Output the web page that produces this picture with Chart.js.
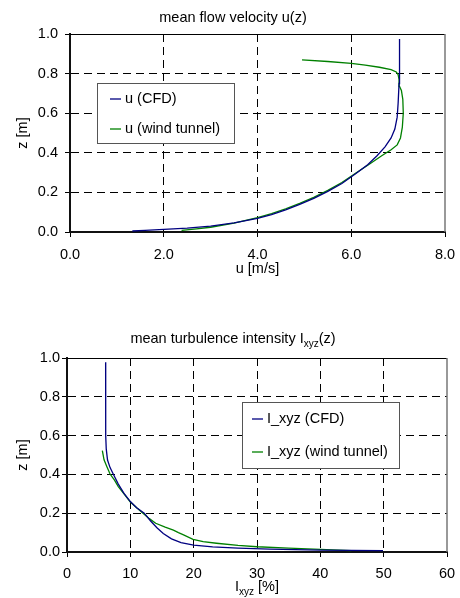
<!DOCTYPE html>
<html>
<head>
<meta charset="utf-8">
<script src="https://cdn.jsdelivr.net/npm/chart.js@4"></script>
<style>
  body { margin: 0; background: #fff; }
  canvas { display: block; }
</style>
</head>
<body>
<canvas id="velocity-chart" width="460" height="299"></canvas>
<canvas id="turbulence-chart" width="460" height="299"></canvas>
<script>
// mean flow velocity u(z)
const cfdVelU = [1.33, 1.6, 2.0, 2.5, 3.0, 3.5, 4.0, 4.3, 4.6, 4.9, 5.2, 5.5, 5.8, 6.1, 6.35, 6.55, 6.72, 6.85, 6.93, 6.98, 7.0, 7.02, 7.03, 7.03];
const cfdVelZ = [0.005, 0.008, 0.013, 0.02, 0.03, 0.046, 0.069, 0.088, 0.112, 0.14, 0.17, 0.205, 0.245, 0.295, 0.34, 0.385, 0.43, 0.475, 0.52, 0.58, 0.65, 0.75, 0.86, 0.975];
const tunnelVelU = [2.38, 2.7, 3.0, 3.5, 4.0, 4.3, 4.6, 4.9, 5.2, 5.5, 5.8, 6.1, 6.4, 6.65, 6.85, 6.98, 7.05, 7.09, 7.11, 7.1, 7.07, 7.03, 7.02, 7.0, 6.96, 6.85, 6.6, 6.3, 6.0, 5.5, 4.95];
const tunnelVelZ = [0.008, 0.016, 0.024, 0.045, 0.073, 0.093, 0.117, 0.145, 0.175, 0.21, 0.25, 0.298, 0.345, 0.385, 0.415, 0.44, 0.475, 0.53, 0.6, 0.67, 0.715, 0.735, 0.77, 0.795, 0.808, 0.82, 0.832, 0.843, 0.852, 0.861, 0.869];

// mean turbulence intensity I_xyz(z)
const cfdTurbI = [6.1, 6.1, 6.12, 6.2, 6.4, 6.8, 7.3, 8.1, 9.0, 10.0, 11.0, 12.2, 13.2, 14.2, 15.2, 16.5, 18.0, 20.0, 23.0, 27.0, 32.0, 40.0, 49.9];
const cfdTurbZ = [0.978, 0.8, 0.6, 0.53, 0.474, 0.435, 0.402, 0.35, 0.302, 0.26, 0.228, 0.2, 0.16, 0.125, 0.095, 0.068, 0.048, 0.035, 0.026, 0.02, 0.015, 0.01, 0.007];
const tunnelTurbI = [5.58, 5.85, 6.3, 6.8, 7.5, 8.1, 9.0, 10.0, 11.0, 12.0, 13.0, 14.0, 15.5, 16.8, 17.6, 18.4, 19.9, 21.5, 23.6, 27.0, 30.0, 35.0, 40.0, 44.9];
const tunnelTurbZ = [0.522, 0.475, 0.44, 0.402, 0.37, 0.337, 0.3, 0.258, 0.228, 0.2, 0.172, 0.148, 0.128, 0.113, 0.1, 0.088, 0.065, 0.053, 0.045, 0.034, 0.027, 0.02, 0.014, 0.007];

const velLabels = ['u (CFD)', 'u (wind tunnel)'];
const turbLabels = ['I_xyz (CFD)', 'I_xyz (wind tunnel)'];

const FONT = "'Liberation Sans', Arial, sans-serif";
const cfdColor = '#000080';
const tunnelColor = '#008000';

Chart.defaults.font.family = FONT;
Chart.defaults.font.size = 14.5;
Chart.defaults.color = '#000';

const pts = (xs, ys) => xs.map((x, i) => ({ x: x, y: ys[i] }));

// text pieces: [text, isSubscript]
function drawRich(ctx, segs, cx, cy) {
    const normal = '14.5px ' + FONT, small = '10px ' + FONT;
    let total = 0;
    segs.forEach(s => { ctx.font = s[1] ? small : normal; total += ctx.measureText(s[0]).width; });
    let x = cx - total / 2;
    ctx.textAlign = 'left';
    ctx.textBaseline = 'middle';
    ctx.fillStyle = '#000';
    segs.forEach(s => {
        ctx.font = s[1] ? small : normal;
        ctx.fillText(s[0], x, s[1] ? cy + 5 : cy);
        x += ctx.measureText(s[0]).width;
    });
}

const excelLook = {
    id: 'excelLook',
    beforeDatasetsDraw(chart, args, opts) {
        const { ctx, chartArea: a } = chart;
        ctx.save();
        ctx.strokeStyle = '#000';
        ctx.lineWidth = 1;
        ctx.beginPath(); ctx.moveTo(a.left, a.top + 0.5); ctx.lineTo(a.right, a.top + 0.5); ctx.stroke();
        ctx.strokeStyle = '#777';
        ctx.lineWidth = 1.5;
        ctx.beginPath(); ctx.moveTo(a.right, a.top); ctx.lineTo(a.right, a.bottom); ctx.stroke();
        ctx.restore();
    },
    afterDraw(chart, args, opts) {
        const { ctx, chartArea: a } = chart;
        ctx.save();
        drawRich(ctx, opts.title, opts.titleX, opts.titleY);
        drawRich(ctx, opts.xTitle, (a.left + a.right) / 2, opts.xTitleY);

        const L = opts.legend;
        ctx.fillStyle = '#fff';
        ctx.fillRect(L.x, L.y, L.w, L.h);
        ctx.strokeStyle = '#555';
        ctx.lineWidth = 1;
        ctx.strokeRect(L.x + 0.5, L.y + 0.5, L.w, L.h);
        chart.data.datasets.forEach((ds, i) => {
            const y = L.rows[i];
            ctx.strokeStyle = ds.borderColor;
            ctx.lineWidth = 1.3;
            ctx.beginPath(); ctx.moveTo(L.lineX1, y); ctx.lineTo(L.lineX2, y); ctx.stroke();
            ctx.fillStyle = '#000';
            ctx.font = '14.5px ' + FONT;
            ctx.textAlign = 'left';
            ctx.textBaseline = 'middle';
            ctx.fillText(ds.label, L.textX, y);
        });
        ctx.restore();
    }
};

function makeChart(canvasId, series, labels, xCfg, layoutCfg, look) {
    return new Chart(document.getElementById(canvasId), {
        type: 'scatter',
        data: {
            datasets: [
                { label: labels[0], data: series[0], borderColor: cfdColor, backgroundColor: cfdColor, showLine: true, pointRadius: 0, borderWidth: 1.3, tension: 0 },
                { label: labels[1], data: series[1], borderColor: tunnelColor, backgroundColor: tunnelColor, showLine: true, pointRadius: 0, borderWidth: 1.3, tension: 0 }
            ]
        },
        options: {
            responsive: false,
            animation: false,
            events: [],
            layout: { padding: { top: layoutCfg.top, right: layoutCfg.right, left: 0, bottom: 0 } },
            plugins: { legend: { display: false }, tooltip: { enabled: false }, title: { display: false }, excelLook: look },
            scales: {
                x: {
                    type: 'linear', min: xCfg.min, max: xCfg.max,
                    afterFit: s => { s.height = layoutCfg.xHeight; },
                    // small padding keeps the plot's right edge fixed; a taller line height pushes labels down
                    ticks: { stepSize: xCfg.step, padding: 4, font: { lineHeight: layoutCfg.xLineHeight }, callback: xCfg.fmt },
                    grid: { color: c => (c.tick && (c.tick.value === xCfg.min || c.tick.value === xCfg.max)) ? 'rgba(0,0,0,0)' : '#000', lineWidth: 1, tickLength: 5, tickColor: '#000', tickWidth: 1 },
                    border: { color: '#111', width: 2, dash: [8, 5] }
                },
                y: {
                    type: 'linear', min: 0, max: 1,
                    afterFit: s => { s.width = layoutCfg.yWidth; },
                    ticks: { stepSize: 0.2, padding: layoutCfg.yPad, callback: v => v.toFixed(1) },
                    title: { display: true, text: 'z [m]', padding: { top: layoutCfg.yTitlePad, bottom: 0 } },
                    grid: { color: c => (c.tick && (c.tick.value === 0 || c.tick.value === 1)) ? 'rgba(0,0,0,0)' : '#000', lineWidth: 1, tickLength: 5, tickColor: '#000', tickWidth: 1 },
                    border: { color: '#111', width: 2, dash: [8, 5] }
                }
            }
        },
        plugins: [excelLook]
    });
}

makeChart('velocity-chart',
    [pts(cfdVelU, cfdVelZ), pts(tunnelVelU, tunnelVelZ)], velLabels,
    { min: 0, max: 8, step: 2, fmt: v => v.toFixed(1) },
    { top: 34, right: 15, xHeight: 67, yWidth: 70, xLineHeight: 1.89, yPad: 7, yTitlePad: 14 },
    {
        title: [['mean flow velocity u(z)', false]], titleX: 233, titleY: 18,
        xTitle: [['u [m/s]', false]], xTitleY: 269,
        legend: { x: 97, y: 83, w: 137, h: 60, rows: [99, 129], lineX1: 110, lineX2: 121, textX: 125 }
    });

makeChart('turbulence-chart',
    [pts(cfdTurbI, cfdTurbZ), pts(tunnelTurbI, tunnelTurbZ)], turbLabels,
    { min: 0, max: 60, step: 10, fmt: v => String(v) },
    { top: 59, right: 13, xHeight: 46, yWidth: 67, xLineHeight: 1.75, yPad: 2, yTitlePad: 14 },
    {
        title: [['mean turbulence intensity I', false], ['xyz', true], ['(z)', false]], titleX: 233, titleY: 40,
        xTitle: [['I', false], ['xyz', true], [' [%]', false]], xTitleY: 288,
        legend: { x: 242, y: 103, w: 157, h: 66, rows: [120, 153], lineX1: 252, lineX2: 263, textX: 267 }
    });
</script>
</body>
</html>
